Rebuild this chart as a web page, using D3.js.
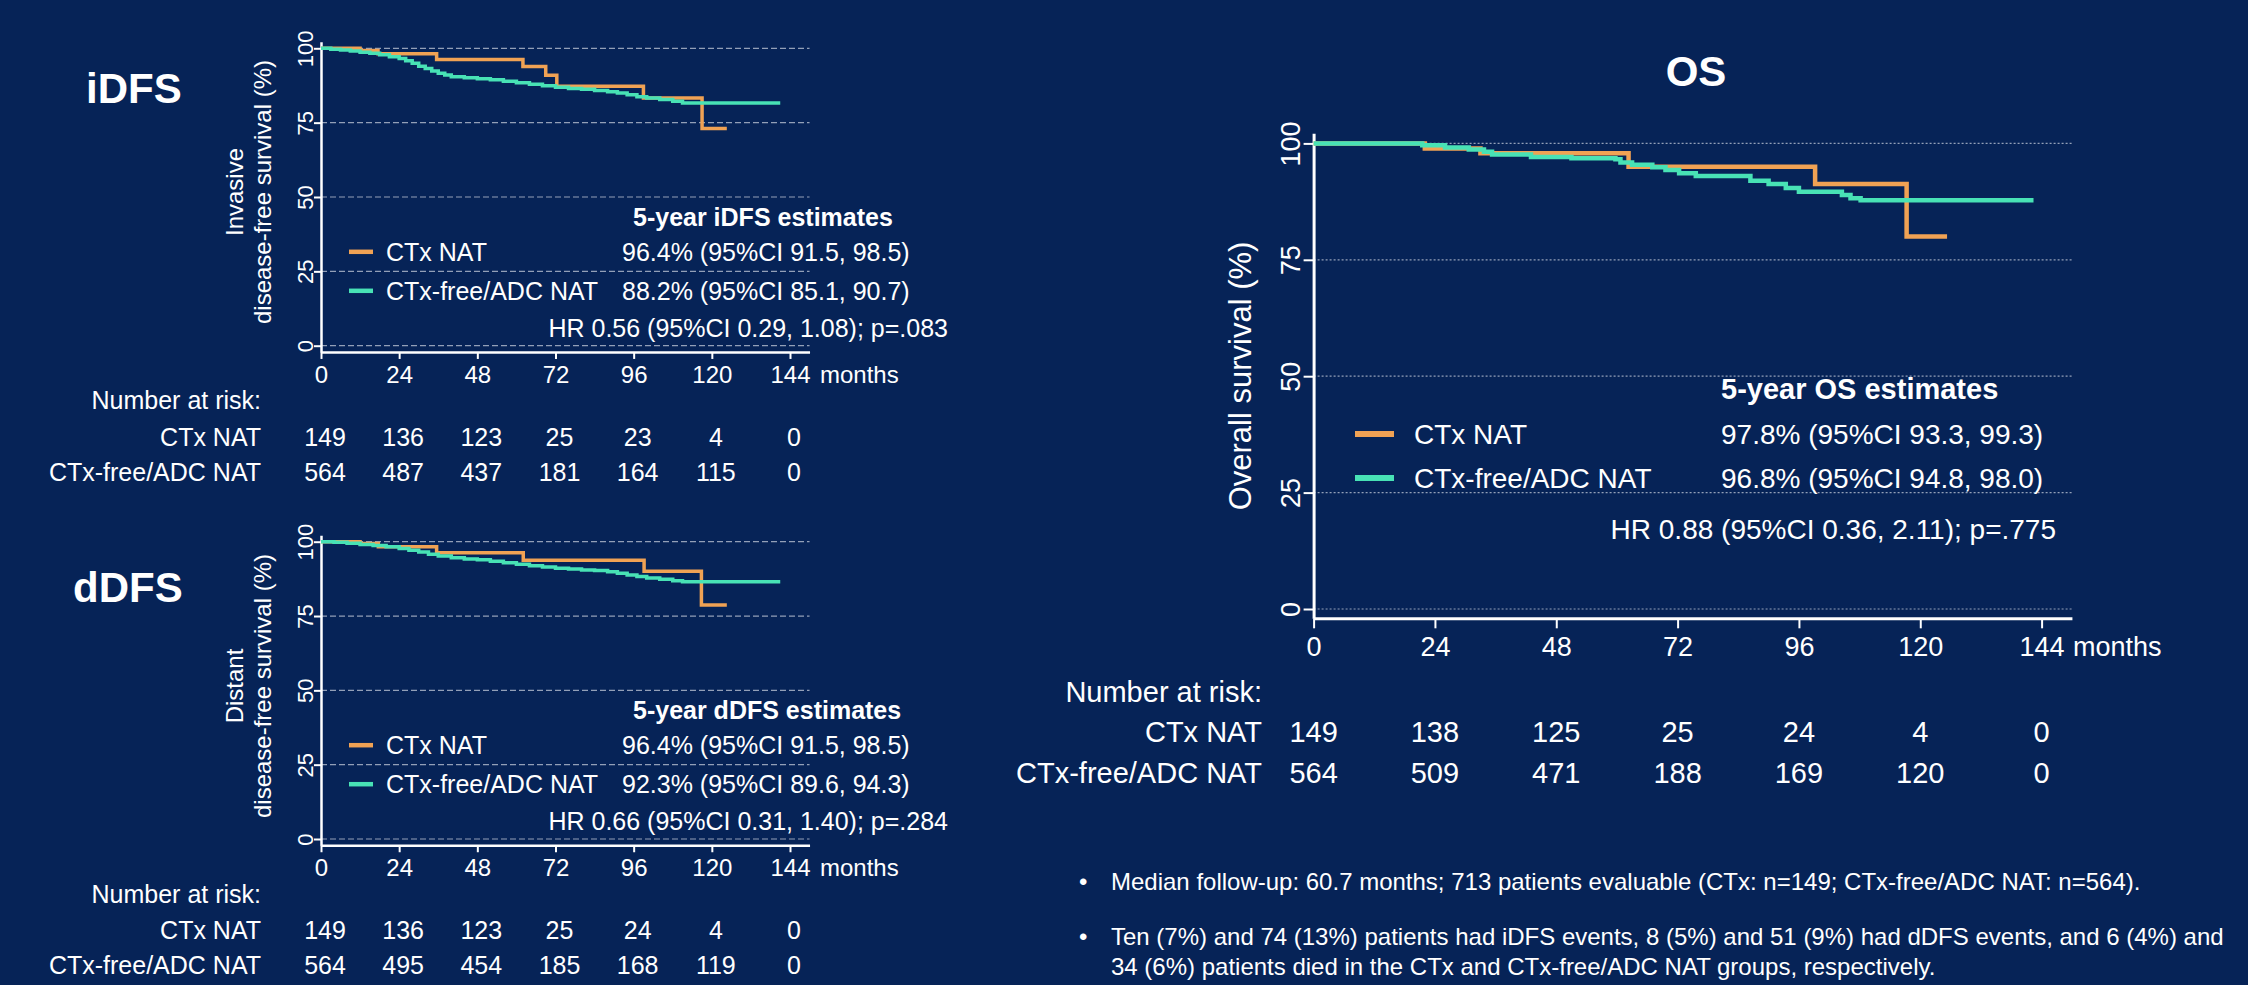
<!DOCTYPE html>
<html>
<head>
<meta charset="utf-8">
<script src="https://cdn.jsdelivr.net/npm/d3@7"></script>
<style>
  html, body { margin: 0; padding: 0; background: #062357; }
  svg { display: block; font-family: "Liberation Sans", Arial, sans-serif; }
</style>
</head>
<body>
<svg id="chart" width="2248" height="985"></svg>
<script>
// ---- data ----
const months = [0, 24, 48, 72, 96, 120, 144];
const yTicks = [0, 25, 50, 75, 100];
const groups = ["CTx NAT", "CTx-free/ADC NAT"];

// iDFS step curves (months, survival %)
const idfsCtxTime = [0, 12, 17.5, 35.5, 62, 69, 72.4, 99, 117, 124.6];
const idfsCtxSurv = [100, 99.3, 98.2, 96.2, 93.9, 90.9, 87.2, 83.3, 73, 73];
const idfsFreeTime = [0, 3, 6, 9, 12, 15, 18, 21, 24, 26, 28, 30, 32, 34, 36, 38, 40, 44, 48, 52, 56, 60, 64, 68, 72, 76, 80, 84, 88, 91, 94, 97, 100, 104, 108, 111, 141];
const idfsFreeSurv = [100, 99.7, 99.4, 99.1, 98.7, 98.3, 97.8, 97.2, 96.6, 95.8, 95.0, 94.0, 93.2, 92.4, 91.6, 91.0, 90.4, 90.1, 89.8, 89.4, 88.9, 88.4, 87.9, 87.4, 86.9, 86.5, 86.2, 85.8, 85.4, 85.0, 84.4, 83.7, 83.3, 82.8, 82.2, 81.6, 81.6];

// dDFS
const ddfsCtxTime = [0, 12, 17.6, 35.5, 62.1, 99.2, 116.8, 124.6];
const ddfsCtxSurv = [100, 99.4, 98.3, 96.3, 93.8, 90.1, 78.7, 78.7];
const ddfsFreeTime = [0, 4, 8, 12, 16, 20, 24, 27, 30, 33, 36, 40, 44, 48, 52, 56, 60, 64, 68, 72, 76, 80, 84, 88, 91, 94, 97, 100, 104, 108, 111, 141];
const ddfsFreeSurv = [100, 99.8, 99.5, 99.1, 98.7, 98.3, 97.7, 97.1, 96.5, 95.8, 95.2, 94.6, 94.2, 93.9, 93.4, 92.9, 92.4, 91.9, 91.5, 91.1, 90.8, 90.5, 90.3, 89.9, 89.4, 88.8, 88.3, 87.8, 87.4, 86.9, 86.5, 86.5];

// OS
const osCtxTime = [0, 22, 33, 62.3, 99.2, 117.3, 125.3];
const osCtxSurv = [100, 98.9, 97.9, 95.0, 91.3, 80.0, 80.0];
const osFreeTime = [0, 21.5, 26, 30.7, 33.7, 35.3, 43, 51, 59.7, 60.7, 63, 67, 69.6, 72.3, 75.6, 86.4, 90, 93.4, 96, 104.5, 106.2, 108.2, 142.4];
const osFreeSurv = [100, 99.6, 99.1, 98.7, 98.2, 97.6, 97.1, 96.8, 96.6, 95.9, 95.4, 94.9, 94.3, 93.6, 93.0, 92.0, 91.3, 90.4, 89.6, 88.9, 88.2, 87.8, 87.8];

// number at risk
const idfsRiskCtx = [149, 136, 123, 25, 23, 4, 0];
const idfsRiskFree = [564, 487, 437, 181, 164, 115, 0];
const ddfsRiskCtx = [149, 136, 123, 25, 24, 4, 0];
const ddfsRiskFree = [564, 495, 454, 185, 168, 119, 0];
const osRiskCtx = [149, 138, 125, 25, 24, 4, 0];
const osRiskFree = [564, 509, 471, 188, 169, 120, 0];

// estimates
const idfsEstimates = ["96.4% (95%CI 91.5, 98.5)", "88.2% (95%CI 85.1, 90.7)"];
const ddfsEstimates = ["96.4% (95%CI 91.5, 98.5)", "92.3% (95%CI 89.6, 94.3)"];
const osEstimates = ["97.8% (95%CI 93.3, 99.3)", "96.8% (95%CI 94.8, 98.0)"];
const hrTexts = ["HR 0.56 (95%CI 0.29, 1.08); p=.083", "HR 0.66 (95%CI 0.31, 1.40); p=.284", "HR 0.88 (95%CI 0.36, 2.11); p=.775"];

const notes = [
  ["Median follow-up: 60.7 months; 713 patients evaluable (CTx: n=149; CTx-free/ADC NAT: n=564)."],
  ["Ten (7%) and 74 (13%) patients had iDFS events, 8 (5%) and 51 (9%) had dDFS events, and 6 (4%) and",
   "34 (6%) patients died in the CTx and CTx-free/ADC NAT groups, respectively."]
];

// ---- styling ----
const ORANGE = "#f0a254";
const TEAL = "#48e2b5";
const GRID = "#93a0b8";
const WHITE = "#ffffff";

const svg = d3.select("#chart");

function toSteps(times, surv) {
  return times.map((t, i) => ({ t: t, s: surv[i] }));
}

function drawPanel(p) {
  const g = svg.append("g");
  const x = d3.scaleLinear().domain([0, 144]).range([p.x0, p.x144]);
  const y = d3.scaleLinear().domain([0, 100]).range([p.y0, p.y100]);
  const xAx = x.copy().domain([0, 150]).range([x(0), x(150)]);
  const yAx = y.copy().domain([p.yLo, p.yHi]).range([y(p.yLo), y(p.yHi)]);

  // gridlines
  g.append("g").selectAll("line")
    .data(yTicks)
    .join("line")
    .attr("x1", x(0)).attr("x2", x(150))
    .attr("y1", d => y(d)).attr("y2", d => y(d))
    .attr("stroke", GRID)
    .attr("stroke-width", 1.2)
    .attr("stroke-dasharray", p.dash);

  // axes
  const ya = g.append("g")
    .attr("transform", `translate(${x(0)},0)`)
    .call(d3.axisLeft(yAx).tickValues(yTicks).tickSize(p.tick).tickSizeOuter(0));
  const xa = g.append("g")
    .attr("transform", `translate(0,${yAx(p.yLo)})`)
    .call(d3.axisBottom(xAx).tickValues(months).tickSize(p.tick).tickSizeOuter(0));

  [ya, xa].forEach(a => {
    a.attr("font-family", null).attr("font-size", null);
    a.select(".domain").attr("stroke", WHITE).attr("stroke-width", p.axisW);
    a.selectAll(".tick line").attr("stroke", WHITE).attr("stroke-width", 2);
    a.selectAll(".tick text").attr("fill", WHITE);
  });
  ya.selectAll(".tick text")
    .attr("transform", "rotate(-90)")
    .attr("x", 0)
    .attr("y", -p.yLabOff)
    .attr("dy", "0.35em")
    .attr("text-anchor", "middle")
    .style("font-size", p.yTickFont + "px");
  xa.selectAll(".tick text")
    .attr("y", p.xLabTop)
    .attr("dy", "0.71em")
    .style("font-size", p.xTickFont + "px");

  g.append("text")
    .attr("x", p.monthsX)
    .attr("y", yAx(p.yLo) + p.xLabTop)
    .attr("dy", "0.71em")
    .attr("fill", WHITE)
    .style("font-size", p.xTickFont + "px")
    .text("months");

  // curves
  const line = d3.line()
    .x(d => x(d.t))
    .y(d => y(d.s))
    .curve(d3.curveStepAfter);

  g.append("path")
    .datum(toSteps(p.ctxTime, p.ctxSurv))
    .attr("d", line)
    .attr("fill", "none")
    .attr("stroke", ORANGE)
    .attr("stroke-width", p.curveW);
  g.append("path")
    .datum(toSteps(p.freeTime, p.freeSurv))
    .attr("d", line)
    .attr("fill", "none")
    .attr("stroke", TEAL)
    .attr("stroke-width", p.curveW);

  // y axis title
  p.yTitle.forEach((t, i) => {
    g.append("text")
      .attr("transform", `translate(${p.yTitleX[i]},${p.yTitleY}) rotate(-90)`)
      .attr("text-anchor", "middle")
      .attr("fill", WHITE)
      .style("font-size", p.yTitleFont + "px")
      .text(t);
  });

  // panel title
  g.append("text")
    .attr("x", p.titleX)
    .attr("y", p.titleY)
    .attr("text-anchor", p.titleAnchor)
    .attr("fill", WHITE)
    .style("font-size", "42px")
    .style("font-weight", "bold")
    .text(p.title);

  // legend
  const lg = g.append("g").style("font-size", p.font + "px").attr("fill", WHITE);
  lg.append("text")
    .attr("x", p.headX)
    .attr("y", p.y100 + p.headDy)
    .style("font-weight", "bold")
    .style("font-size", p.headFont + "px")
    .text(p.heading);
  [ORANGE, TEAL].forEach((c, i) => {
    const by = p.y100 + p.rowDy[i];
    lg.append("line")
      .attr("x1", p.keyX[0]).attr("x2", p.keyX[1])
      .attr("y1", by - p.font * 0.36).attr("y2", by - p.font * 0.36)
      .attr("stroke", c)
      .attr("stroke-width", p.keyW);
    lg.append("text").attr("x", p.labelX).attr("y", by).text(groups[i]);
    lg.append("text").attr("x", p.valueX).attr("y", by).text(p.estimates[i]);
  });
  lg.append("text")
    .attr("x", p.hrX)
    .attr("y", p.y100 + p.hrDy)
    .attr("text-anchor", "end")
    .text(p.hr);

  // number at risk
  const rg = g.append("g").style("font-size", p.riskFont + "px").attr("fill", WHITE);
  rg.append("text")
    .attr("x", p.riskLabelX)
    .attr("y", p.y0 + p.riskDy[0])
    .attr("text-anchor", "end")
    .text("Number at risk:");
  [p.riskCtx, p.riskFree].forEach((row, i) => {
    const by = p.y0 + p.riskDy[i + 1];
    rg.append("text")
      .attr("x", p.riskLabelX)
      .attr("y", by)
      .attr("text-anchor", "end")
      .text(groups[i]);
    rg.selectAll(null)
      .data(row)
      .join("text")
      .attr("x", (d, j) => x(months[j]) + p.riskShift)
      .attr("y", by)
      .attr("text-anchor", "middle")
      .text(d => d);
  });
}

const leftBase = {
  x0: 321, x144: 790, yLo: -2.1, yHi: 102.2,
  dash: "6,3", tick: 7, axisW: 2.5, curveW: 3.5,
  yLabOff: 16, yTickFont: 22, xTickFont: 24, xLabTop: 14, monthsX: 820,
  yTitleX: [243, 271], yTitleFont: 24,
  titleAnchor: "start",
  font: 25, headFont: 25, headX: 633, headDy: 177.5, rowDy: [212.5, 251.5], hrDy: 288.5,
  keyX: [349, 373], keyW: 4.5, labelX: 386, valueX: 622, hrX: 948,
  riskFont: 25, riskLabelX: 261, riskDy: [63.5, 100, 135], riskShift: 4
};

drawPanel(Object.assign({}, leftBase, {
  y0: 345.7, y100: 48.3, yTitleY: 192,
  title: "iDFS", titleX: 86, titleY: 103,
  yTitle: ["Invasive", "disease-free survival (%)"],
  ctxTime: idfsCtxTime, ctxSurv: idfsCtxSurv, freeTime: idfsFreeTime, freeSurv: idfsFreeSurv,
  heading: "5-year iDFS estimates", estimates: idfsEstimates, hr: hrTexts[0],
  riskCtx: idfsRiskCtx, riskFree: idfsRiskFree
}));

drawPanel(Object.assign({}, leftBase, {
  y0: 839, y100: 541.7, yTitleY: 686,
  title: "dDFS", titleX: 73, titleY: 602,
  yTitle: ["Distant", "disease-free survival (%)"],
  ctxTime: ddfsCtxTime, ctxSurv: ddfsCtxSurv, freeTime: ddfsFreeTime, freeSurv: ddfsFreeSurv,
  heading: "5-year dDFS estimates", estimates: ddfsEstimates, hr: hrTexts[1],
  riskCtx: ddfsRiskCtx, riskFree: ddfsRiskFree
}));

drawPanel({
  x0: 1313.6, x144: 2041.6, y0: 609, y100: 143.4, yLo: -2, yHi: 102.2,
  dash: "2,2", tick: 10, axisW: 3, curveW: 4.5,
  yLabOff: 23.5, yTickFont: 27, xTickFont: 27, xLabTop: 19, monthsX: 2073,
  yTitle: ["Overall survival (%)"], yTitleX: [1251], yTitleY: 376, yTitleFont: 31,
  title: "OS", titleX: 1696, titleY: 86, titleAnchor: "middle",
  ctxTime: osCtxTime, ctxSurv: osCtxSurv, freeTime: osFreeTime, freeSurv: osFreeSurv,
  font: 28, headFont: 29, heading: "5-year OS estimates", estimates: osEstimates, hr: hrTexts[2],
  headX: 1721, headDy: 255.6, rowDy: [300.6, 344.6], hrDy: 395.6,
  keyX: [1355, 1394], keyW: 6, labelX: 1414, valueX: 1721, hrX: 2056,
  riskFont: 29, riskLabelX: 1262, riskDy: [93, 133, 174], riskShift: 0,
  riskCtx: osRiskCtx, riskFree: osRiskFree
});

// footnotes
const ng = svg.append("g").style("font-size", "24px").attr("fill", WHITE);
const noteBase = [890, 945];
notes.forEach((lines, i) => {
  ng.append("text").attr("x", 1079).attr("y", noteBase[i]).text("\u2022");
  lines.forEach((t, k) => {
    ng.append("text").attr("x", 1111).attr("y", noteBase[i] + k * 30).text(t);
  });
});
</script>
</body>
</html>
